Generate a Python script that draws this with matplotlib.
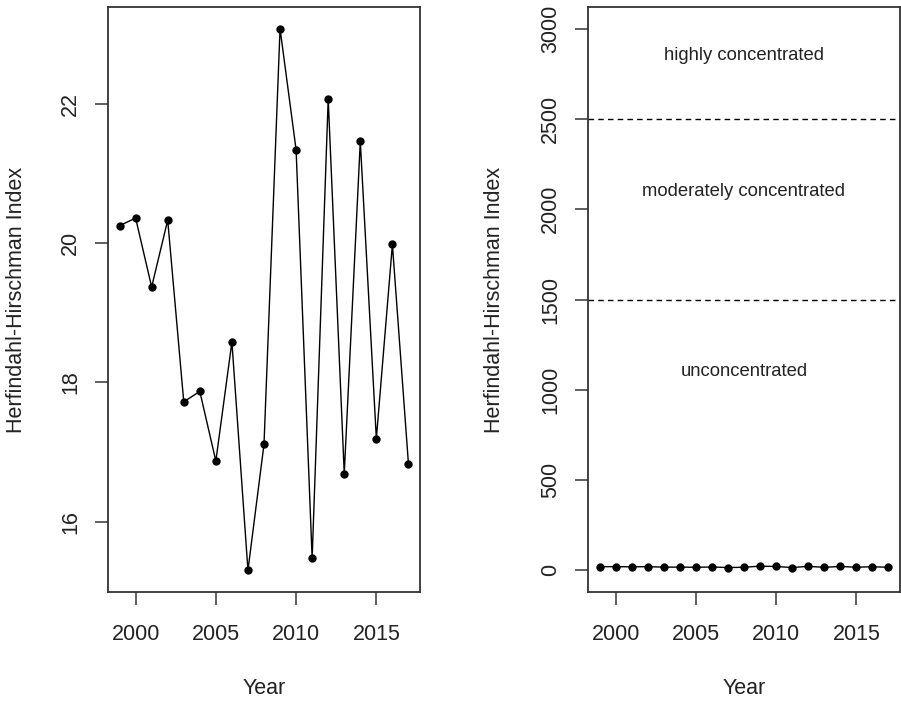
import matplotlib
matplotlib.use("Agg")
import matplotlib.pyplot as plt

plt.rcParams['font.family'] = ['Liberation Sans', 'DejaVu Sans']

years = list(range(1999, 2018))
hhi = [20.25, 20.36, 19.37, 20.33, 17.72, 17.87, 16.87, 18.58, 15.30, 17.11,
       23.08, 21.34, 15.47, 22.07, 16.69, 21.46, 17.19, 19.98, 16.83]

x_ticks = [2000, 2005, 2010, 2015]
left_y_ticks = [16, 18, 20, 22]
right_y_ticks = [0, 500, 1000, 1500, 2000, 2500, 3000]
thresholds = [1500, 2500]
zone_labels = ["unconcentrated", "moderately concentrated", "highly concentrated"]
zone_label_y = [1100, 2100, 2850]

ink = '#222222'
frame = '#333333'
tick_fs = 15.5
label_fs = 15.5

fig = plt.figure(figsize=(9.01, 7.02), dpi=100)
ax1 = fig.add_axes([108/901, 1 - 592/702, 312/901, 585/702])
ax2 = fig.add_axes([588/901, 1 - 592/702, 312/901, 585/702])


def r_extent(lo, hi):
    pad = (hi - lo) * 0.04
    return lo - pad, hi + pad


def style(ax, yticks):
    for s in ax.spines.values():
        s.set_color(frame)
        s.set_linewidth(1.3)
    ax.set_xticks(x_ticks)
    ax.set_yticks(yticks)
    ax.tick_params(axis='both', length=9.2, width=1.1, color=frame,
                   labelsize=tick_fs, labelcolor=ink)
    ax.tick_params(axis='x', pad=13.5)
    ax.tick_params(axis='y', pad=10)
    for lab in ax.get_yticklabels():
        lab.set_rotation(90)
        lab.set_va('center')
    ax.set_xlabel("Year", fontsize=label_fs, color=ink)
    ax.set_ylabel("Herfindahl-Hirschman Index", fontsize=label_fs, color=ink)
    ax.xaxis.label.set_va('center')
    ax.yaxis.label.set_va('center')
    ax.xaxis.set_label_coords(0.5, -(688 - 592) / 585)


# left: raw index over time
ax1.plot(years, hhi, color='black', linewidth=1.0, marker='o',
         markersize=5, markerfacecolor='black', markeredgecolor='black')
ax1.set_xlim(*r_extent(min(years), max(years)))
ax1.set_ylim(*r_extent(min(hhi), max(hhi)))
style(ax1, left_y_ticks)
ax1.yaxis.set_label_coords((17 - 108) / 312, 0.5)

# right: index against concentration thresholds
ax2.plot(years, hhi, color='black', linewidth=1.0, marker='o',
         markersize=5, markerfacecolor='black', markeredgecolor='black')
ax2.set_xlim(*r_extent(min(years), max(years)))
ax2.set_ylim(*r_extent(0, 3000))
for t in thresholds:
    ax2.axhline(t, color='black', linewidth=1.0, linestyle=(0, (4, 3)))
x_mid = (min(years) + max(years)) / 2
for txt, yv in zip(zone_labels, zone_label_y):
    ax2.text(x_mid, yv, txt, ha='center', va='center', fontsize=13.3, color=ink)
style(ax2, right_y_ticks)
ax2.yaxis.set_label_coords((494 - 588) / 312, 0.5)

fig.savefig("out.png", dpi=100)
